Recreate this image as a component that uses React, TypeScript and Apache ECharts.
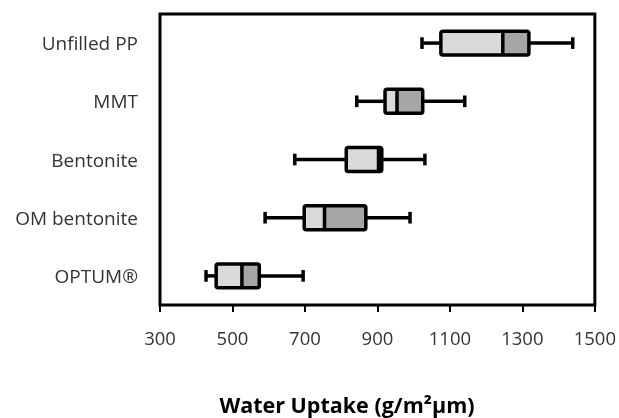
import React, { useEffect, useRef } from "react";
import * as echarts from "echarts";

const categories = ["Unfilled PP", "MMT", "Bentonite", "OM bentonite", "OPTUM®"];
const whiskerLow = [1023, 843, 672, 590, 427];
const q1 = [1075, 921, 814, 698, 455];
const median = [1246, 954, 903, 754, 526];
const q3 = [1318, 1025, 912, 868, 574];
const whiskerHigh = [1439, 1141, 1031, 990, 695];
const xTicks = { min: 300, max: 1500, interval: 200 };
const xTitle = "Water Uptake (g/m²µm)";

const FONT = "'Open Sans', 'Liberation Sans', sans-serif";

export default function App() {
  const ref = useRef<HTMLDivElement>(null);
  useEffect(() => {
    if (!ref.current) return;
    const chart = echarts.init(ref.current, undefined, { renderer: "svg" });
    const data = categories.map((_, i) => [i, whiskerLow[i], q1[i], median[i], q3[i], whiskerHigh[i]]);
    const lw = 3.5;
    chart.setOption({
      animation: false,
      grid: {
        left: 160,
        right: 24,
        top: 14,
        bottom: 113,
        show: true,
        borderColor: "#000",
        borderWidth: 3,
      },
      xAxis: {
        type: "value",
        min: xTicks.min,
        max: xTicks.max,
        interval: xTicks.interval,
        splitLine: { show: false },
        axisLine: { show: false },
        axisTick: { show: true, length: 7, lineStyle: { color: "#000", width: 2 } },
        axisLabel: {
          fontFamily: FONT,
          fontSize: 18.5,
          color: "#333",
          margin: 23,
          formatter: (v: number) => String(v),
        },
      },
      yAxis: {
        type: "category",
        data: categories,
        inverse: true,
        axisLine: { show: false },
        axisTick: { show: false },
        splitLine: { show: false },
        axisLabel: { fontFamily: FONT, fontSize: 19, color: "#333", margin: 22 },
      },
      graphic: [
        {
          type: "text",
          x: 347,
          y: 404,
          style: {
            text: xTitle,
            fontFamily: FONT,
            fontSize: 21.5,
            fontWeight: "bold",
            fill: "#000",
            align: "center",
            verticalAlign: "middle",
          },
        },
      ],
      series: [
        {
          type: "custom",
          data,
          encode: { x: [1, 2, 3, 4, 5], y: 0 },
          renderItem: (params: any, api: any) => {
            const cat = api.value(0);
            const pMin = api.coord([api.value(1), cat]);
            const pQ1 = api.coord([api.value(2), cat]);
            const pMed = api.coord([api.value(3), cat]);
            const pQ3 = api.coord([api.value(4), cat]);
            const pMax = api.coord([api.value(5), cat]);
            const y = pMin[1];
            const band = api.size([0, 1])[1];
            const h = band * 0.41;
            const capH = band * 0.2;
            const stroke = { stroke: "#000", lineWidth: lw };
            return {
              type: "group",
              children: [
                { type: "line", shape: { x1: pMin[0], y1: y, x2: pQ1[0], y2: y }, style: stroke },
                { type: "line", shape: { x1: pQ3[0], y1: y, x2: pMax[0], y2: y }, style: stroke },
                { type: "line", shape: { x1: pMin[0], y1: y - capH / 2, x2: pMin[0], y2: y + capH / 2 }, style: stroke },
                { type: "line", shape: { x1: pMax[0], y1: y - capH / 2, x2: pMax[0], y2: y + capH / 2 }, style: stroke },
                { type: "rect", shape: { x: pQ1[0], y: y - h / 2, width: pMed[0] - pQ1[0], height: h }, style: { fill: "#d9d9d9" } },
                { type: "rect", shape: { x: pMed[0], y: y - h / 2, width: pQ3[0] - pMed[0], height: h }, style: { fill: "#a6a6a6" } },
                { type: "line", shape: { x1: pMed[0], y1: y - h / 2, x2: pMed[0], y2: y + h / 2 }, style: stroke },
                { type: "rect", shape: { x: pQ1[0], y: y - h / 2, width: pQ3[0] - pQ1[0], height: h, r: 2 }, style: { fill: "none", stroke: "#000", lineWidth: lw } },
              ],
            };
          },
        },
      ],
    });
    return () => chart.dispose();
  }, []);
  return <div ref={ref} style={{ position: "fixed", left: 0, top: 0, width: 619, height: 418 }} />;
}
